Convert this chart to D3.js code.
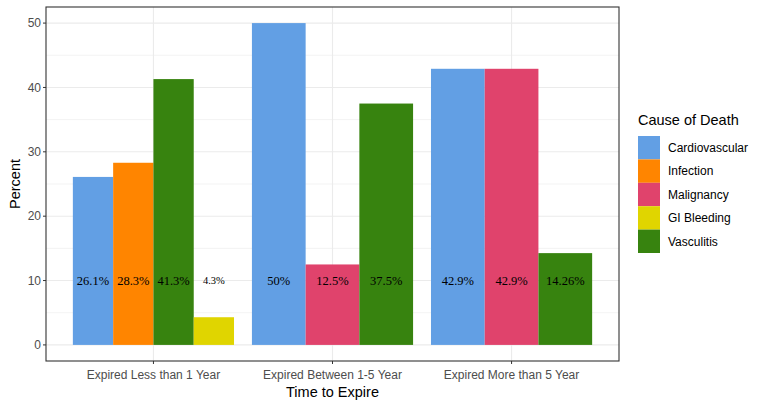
<!DOCTYPE html>
<meta charset="utf-8">
<script src="https://cdn.jsdelivr.net/npm/d3@7"></script>
<style>
    body { margin: 0; padding: 0; background: #fff; }
    text { font-family: Arial, "Liberation Sans", sans-serif; }
</style>
<body>
<script>
const groups = ['Expired Less than 1 Year', 'Expired Between 1-5 Year', 'Expired More than 5 Year'];
const causes = ['Cardiovascular', 'Infection', 'Malignancy', 'GI Bleeding', 'Vasculitis'];
const colors = ['#629fe4', '#ff8500', '#e0436c', '#e0d500', '#37830f'];

// bars per group, in the order they sit in the picture
const barGroup = [0, 0, 0, 0, 1, 1, 1, 2, 2, 2];
const barCause = ['Cardiovascular', 'Infection', 'Vasculitis', 'GI Bleeding',
                  'Cardiovascular', 'Malignancy', 'Vasculitis',
                  'Cardiovascular', 'Malignancy', 'Vasculitis'];
const barValue = [26.1, 28.3, 41.3, 4.3, 50, 12.5, 37.5, 42.9, 42.9, 14.26];
const barLabel = ['26.1%', '28.3%', '41.3%', '4.3%', '50%', '12.5%', '37.5%', '42.9%', '42.9%', '14.26%'];
const yTicks = [0, 10, 20, 30, 40, 50];

const width = 766, height = 406;
const panel = {left: 46, right: 619, top: 7, bottom: 361};

const svg = d3.select('body').append('svg')
    .attr('width', width)
    .attr('height', height);

const y = d3.scaleLinear().domain([-2.5, 52.5]).range([panel.bottom, panel.top]);
const x = d3.scaleLinear().domain([0.4, 3.6]).range([panel.left, panel.right]);
const color = d3.scaleOrdinal().domain(causes).range(colors);

// grid
const g = svg.append('g');
g.selectAll('line.minor')
    .data([5, 15, 25, 35, 45])
    .join('line')
        .attr('x1', panel.left).attr('x2', panel.right)
        .attr('y1', d => y(d)).attr('y2', d => y(d))
        .attr('stroke', '#ebebeb').attr('stroke-width', 0.6);
g.selectAll('line.major')
    .data(yTicks)
    .join('line')
        .attr('x1', panel.left).attr('x2', panel.right)
        .attr('y1', d => y(d)).attr('y2', d => y(d))
        .attr('stroke', '#ebebeb').attr('stroke-width', 1.1);
g.selectAll('line.vmajor')
    .data(groups)
    .join('line')
        .attr('x1', (d, i) => x(i + 1)).attr('x2', (d, i) => x(i + 1))
        .attr('y1', panel.top).attr('y2', panel.bottom)
        .attr('stroke', '#ebebeb').attr('stroke-width', 1.1);

// bars: dodge inside a 0.9 wide slot
const bars = barValue.map((v, i) => {
    const gi = barGroup[i];
    const members = barGroup.filter(k => k === gi).length;
    const idx = barGroup.slice(0, i).filter(k => k === gi).length;
    const w = 0.9 / members;
    const x0 = gi + 1 - 0.45 + idx * w;
    return {x0, x1: x0 + w, value: v, cause: barCause[i], label: barLabel[i]};
});

svg.selectAll('rect.bar')
    .data(bars)
    .join('rect')
        .attr('class', 'bar')
        .attr('x', d => x(d.x0))
        .attr('width', d => x(d.x1) - x(d.x0))
        .attr('y', d => y(d.value))
        .attr('height', d => y(0) - y(d.value))
        .attr('fill', d => color(d.cause));

svg.selectAll('text.lbl')
    .data(bars)
    .join('text')
        .attr('class', 'lbl')
        .attr('x', d => x((d.x0 + d.x1) / 2))
        .attr('y', y(10))
        .attr('dy', '0.35em')
        .attr('text-anchor', 'middle')
        .style('font-family', '"Liberation Serif", "Times New Roman", serif')
        .style('font-size', d => d.label === '4.3%' ? '10.5px' : '12.5px')
        .attr('fill', '#000')
        .text(d => d.label);

// panel border
svg.append('rect')
    .attr('x', panel.left).attr('y', panel.top)
    .attr('width', panel.right - panel.left)
    .attr('height', panel.bottom - panel.top)
    .attr('fill', 'none').attr('stroke', '#333').attr('stroke-width', 1.1);

// y axis
const ya = svg.append('g');
ya.selectAll('line')
    .data(yTicks)
    .join('line')
        .attr('x1', panel.left - 3).attr('x2', panel.left)
        .attr('y1', d => y(d)).attr('y2', d => y(d))
        .attr('stroke', '#333');
ya.selectAll('text')
    .data(yTicks)
    .join('text')
        .attr('x', panel.left - 5)
        .attr('y', d => y(d))
        .attr('dy', '0.35em')
        .attr('text-anchor', 'end')
        .attr('fill', '#4d4d4d')
        .style('font-size', '12px')
        .text(d => d);

// x axis
const xa = svg.append('g');
xa.selectAll('line')
    .data(groups)
    .join('line')
        .attr('x1', (d, i) => x(i + 1)).attr('x2', (d, i) => x(i + 1))
        .attr('y1', panel.bottom).attr('y2', panel.bottom + 3)
        .attr('stroke', '#333');
xa.selectAll('text')
    .data(groups)
    .join('text')
        .attr('x', (d, i) => x(i + 1))
        .attr('y', 375)
        .attr('dy', '0.35em')
        .attr('text-anchor', 'middle')
        .attr('fill', '#4d4d4d')
        .style('font-size', '12px')
        .text(d => d);

svg.append('text')
    .attr('x', (panel.left + panel.right) / 2)
    .attr('y', 392)
    .attr('dy', '0.35em')
    .attr('text-anchor', 'middle')
    .style('font-size', '14.5px')
    .text('Time to Expire');

svg.append('text')
    .attr('transform', `translate(15, ${(panel.top + panel.bottom) / 2}) rotate(-90)`)
    .attr('dy', '0.35em')
    .attr('text-anchor', 'middle')
    .style('font-size', '14.5px')
    .text('Percent');

// legend
const leg = svg.append('g').attr('transform', 'translate(638, 136)');
leg.append('text')
    .attr('x', 0).attr('y', -11)
    .style('font-size', '14.5px')
    .text('Cause of Death');
const key = 23.4;
leg.selectAll('rect')
    .data(causes)
    .join('rect')
        .attr('x', 0).attr('y', (d, i) => i * key)
        .attr('width', 22).attr('height', key)
        .attr('fill', d => color(d));
leg.selectAll('text.item')
    .data(causes)
    .join('text')
        .attr('class', 'item')
        .attr('x', 30).attr('y', (d, i) => i * key + key / 2)
        .attr('dy', '0.35em')
        .style('font-size', '12px')
        .text(d => d);
</script>
</body>
